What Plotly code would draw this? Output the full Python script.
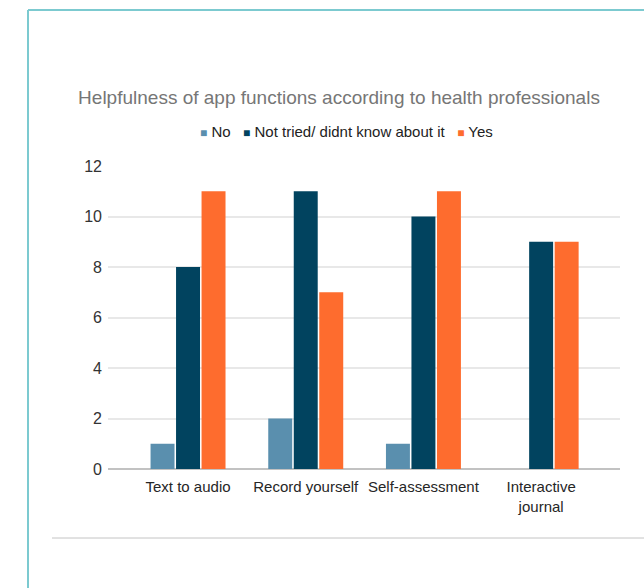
import plotly.graph_objects as go

categories = ["Text to audio", "Record yourself", "Self-assessment", "Interactive<br>journal"]
no_vals = [1, 2, 1, 0]
not_tried_vals = [8, 11, 10, 9]
yes_vals = [11, 7, 11, 9]
series_names = ["No", "Not tried/ didnt know about it", "Yes"]
colors = ["#5a8fae", "#01435f", "#fe6c2e"]

W, H = 644, 588
L, R, T, B = 108, 620, 166, 469
pw, ph = R - L, B - T

def px(x):
    return (x - L) / pw

def py(y):
    return (B - y) / ph

fig = go.Figure()
for name, vals, c in zip(series_names, [no_vals, not_tried_vals, yes_vals], colors):
    fig.add_trace(go.Bar(x=categories, y=vals, name=name, showlegend=False,
                         marker=dict(color=c, line=dict(width=0))))

fig.update_layout(
    width=W, height=H,
    margin=dict(l=L, r=W - R, t=T, b=H - B, pad=0),
    paper_bgcolor="white", plot_bgcolor="white",
    font=dict(family="Liberation Sans, Arial, sans-serif", size=15, color="#333333"),
    barmode="group", bargap=0.35, bargroupgap=0.06,
    title=dict(text="Helpfulness of app functions according to health professionals",
               x=(339) / W, xanchor="center", y=1 - 97 / H, yanchor="middle",
               font=dict(size=19, color="#767676")),
    showlegend=False,
)
fig.update_xaxes(range=[-0.68, 3.67], showgrid=False, showline=False, ticks="",
                 tickfont=dict(size=15, color="#262626"), zeroline=False, ticklabelstandoff=7)
fig.update_yaxes(range=[0, 12], dtick=2, showgrid=True, gridcolor="#e8e8e8", gridwidth=1.5,
                 zeroline=True, zerolinecolor="#c2c2c2", zerolinewidth=2,
                 tickfont=dict(size=16, color="#333333"), ticks="", ticklabelstandoff=5)

# legend built from series names and colours
parts = []
for name, c in zip(series_names, colors):
    parts.append(f"<span style='color:{c};font-size:12px'>■</span> {name}")
legend_text = "   ".join(parts)
fig.add_annotation(text=legend_text, xref="paper", yref="paper", x=px(346), y=py(131),
                   xanchor="center", yanchor="middle", showarrow=False,
                   font=dict(size=15, color="#222222"))

# decorative frame
fig.add_shape(type="line", xref="paper", yref="paper", x0=px(28), x1=px(28), y0=py(10), y1=py(600),
              line=dict(color="#7ccad0", width=2))
fig.add_shape(type="line", xref="paper", yref="paper", x0=px(28), x1=px(660), y0=py(10), y1=py(10),
              line=dict(color="#7ccad0", width=2))
fig.add_shape(type="line", xref="paper", yref="paper", x0=px(52), x1=px(660), y0=py(538), y1=py(538),
              line=dict(color="#c4c4c4", width=1))

fig.write_html("out.html")
